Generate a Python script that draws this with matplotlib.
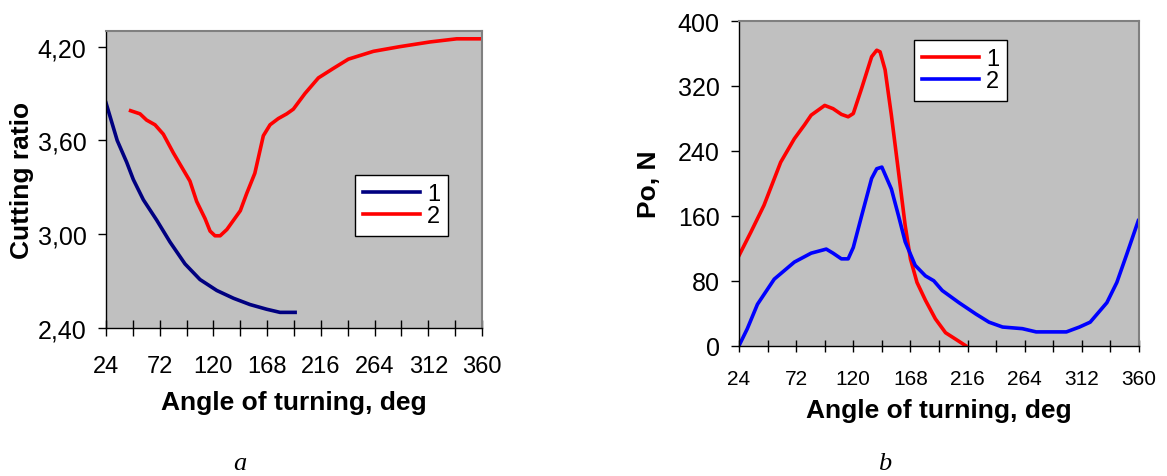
import numpy as np
import matplotlib.pyplot as plt

plt.rcParams['font.family'] = ['Liberation Sans', 'DejaVu Sans']

# panel a: cutting ratio vs angle
a1_x = [24, 34, 42.5, 48.4, 57.4, 69.3, 81.2, 94.6, 108, 123, 138, 152.7, 167.6, 179.5, 193]
a1_y = [3.84, 3.60, 3.46, 3.35, 3.22, 3.09, 2.95, 2.81, 2.71, 2.64, 2.59, 2.55, 2.52, 2.50, 2.50]
a2_x = [46, 54.4, 60.3, 67.8, 75.2, 84.2, 91.6, 99, 105, 112.5, 117, 121.4, 126, 132, 138, 144,
        149.7, 157, 164.6, 170.6, 178, 185.5, 191.4, 201.8, 213.8, 227, 240.6, 263, 286.7,
        313.6, 337.4, 360]
a2_y = [3.79, 3.77, 3.73, 3.70, 3.64, 3.52, 3.43, 3.34, 3.21, 3.10, 3.02, 2.99, 2.99, 3.03,
        3.09, 3.15, 3.26, 3.39, 3.63, 3.70, 3.74, 3.77, 3.80, 3.90, 4.00, 4.06, 4.12, 4.17,
        4.20, 4.23, 4.25, 4.25]

# panel b: Po force vs angle
b1_x = [24, 34, 45, 59, 70.5, 79, 84.6, 96, 103, 110, 115.7, 120, 127, 135.4, 139.7, 142.5,
        146.7, 152, 158, 163.6, 168, 173.5, 180.6, 189, 197.5, 206, 214.4]
b1_y = [111, 140, 173, 226, 255, 272, 284, 296, 292, 285, 282, 286, 317, 356, 364, 362,
        340, 284, 214, 148, 107, 78, 56, 33, 16, 8, 0]
b2_x = [24, 31, 39.5, 53.6, 70.5, 84.6, 97.3, 103, 110, 115.7, 120, 127, 135.4, 139.7, 144,
        152, 158, 163.6, 172, 180.6, 187.6, 194.7, 208.8, 223, 234, 245.4, 262, 273.6, 299,
        310, 319, 333, 341.4, 349.8, 359.4]
b2_y = [0, 21, 51, 82, 103, 114, 119, 114, 107, 107, 121, 160, 206, 218, 220, 193, 160, 128,
        99, 86, 80, 68, 53, 39, 29, 23, 21, 17, 17, 23, 29, 53, 78, 113, 154]

a_yticks = [2.4, 3.0, 3.6, 4.2]
a_ylabels = ['2,40', '3,00', '3,60', '4,20']
b_yticks = [0, 80, 160, 240, 320, 400]
x_major = np.arange(24, 361, 48)
x_minor = np.arange(48, 361, 48)

W, H = 1167, 477
fig = plt.figure(figsize=(W / 100, H / 100), dpi=100)
axL = fig.add_axes([106 / W, 1 - 329 / H, 376 / W, 297 / H])
axR = fig.add_axes([739 / W, 1 - 346.7 / H, 400 / W, 324.7 / H])

lw = 2.6
axL.plot(a1_x, a1_y, color='#000080', lw=lw, label='1')
axL.plot(a2_x, a2_y, color='#ff0000', lw=lw, label='2')
axR.plot(b1_x, b1_y, color='#ff0000', lw=lw, label='1')
axR.plot(b2_x, b2_y, color='#0000ff', lw=lw, label='2')

axL.set_ylim(2.4, 4.3)
axL.set_yticks(a_yticks, a_ylabels)
axR.set_ylim(0, 400)
axR.set_yticks(b_yticks)

for ax, xsz, xpad, xlen, lpad in [(axL, 17, 14, 11, 9), (axR, 15, 13, 8, 7)]:
    ax.set_facecolor('#c0c0c0')
    ax.set_xlim(24, 360)
    ax.set_xticks(x_major)
    ax.set_xticks(x_minor, minor=True)
    ax.tick_params(axis='x', which='both', direction='inout', length=xlen, width=1,
                   labelsize=xsz, pad=xpad)
    ax.tick_params(axis='y', direction='out', length=6, width=1, labelsize=18, pad=8)
    for s in ['top', 'right']:
        ax.spines[s].set_color('#808080')
        ax.spines[s].set_linewidth(1.5)
    for s in ['left', 'bottom']:
        ax.spines[s].set_color('black')
        ax.spines[s].set_linewidth(1)
    ax.set_xlabel('Angle of turning, deg', fontsize=19, fontweight='bold', labelpad=lpad)

axL.set_ylabel('Cutting ratio', fontsize=19, fontweight='bold', labelpad=3)
axR.set_ylabel('Po, N', fontsize=19, fontweight='bold', labelpad=12)

leg_kw = dict(loc='upper left', borderaxespad=0, fancybox=False, edgecolor='black',
              framealpha=1, fontsize=17, handlelength=2.4, handletextpad=0.3,
              borderpad=0.35, labelspacing=0.0)
legL = axL.legend(bbox_to_anchor=(355 / W, 1 - 176 / H), bbox_transform=fig.transFigure, **leg_kw)
legR = axR.legend(bbox_to_anchor=(914 / W, 1 - 41 / H), bbox_transform=fig.transFigure, **leg_kw)
for leg in (legL, legR):
    leg.get_frame().set_linewidth(1)

fig.text(240 / W, 1 - 464 / H, 'a', fontsize=19, style='italic',
         family=['Liberation Serif'], ha='center', va='center')
fig.text(885 / W, 1 - 464 / H, 'b', fontsize=19, style='italic',
         family=['Liberation Serif'], ha='center', va='center')

fig.savefig('out.png', dpi=100)
